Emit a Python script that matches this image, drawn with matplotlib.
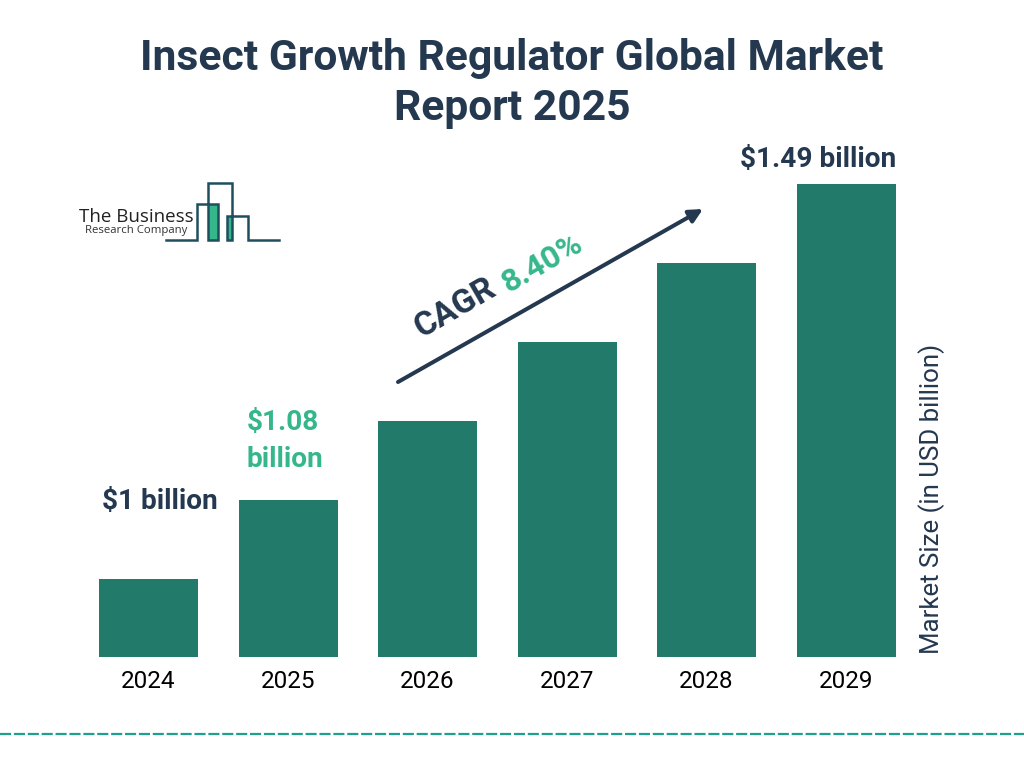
import matplotlib
matplotlib.use('Agg')
import matplotlib.pyplot as plt
from matplotlib.patches import Rectangle, FancyArrowPatch

plt.rcParams['font.family'] = ['Roboto', 'DejaVu Sans']

# Data
years = ['2024', '2025', '2026', '2027', '2028', '2029']
# bars are drawn as even steps in the picture, not to scale with the labels
bar_heights = [78, 157, 236, 315, 394, 473]
title = 'Insect Growth Regulator Global Market\nReport 2025'
y_label = 'Market Size (in USD billion)'
cagr_value = '8.40%'

navy = '#24384F'
bar_green = '#217A6A'
light_green = '#36B78B'
logo_line = '#1F4E5F'
dash_teal = '#1FA08E'

fig = plt.figure(figsize=(10.24, 7.68), dpi=100, facecolor='white')

# Bars axes fills the whole figure: baseline sits 657px from the top
ax = fig.add_axes([0, 0, 1, 1])
ax.set_xlim(-148.7 / 139.5, (1024 - 148.7) / 139.5)
ax.set_ylim(-111, 657)
ax.bar(range(len(years)), bar_heights, width=0.708, color=bar_green, edgecolor='none')
ax.axis('off')

# Overlay in pixel coordinates for the annotations
ov = fig.add_axes([0, 0, 1, 1], facecolor='none')
ov.set_xlim(0, 1024)
ov.set_ylim(768, 0)
ov.axis('off')

ov.text(512, 83.5, title, ha='center', va='center', fontsize=30.7, fontweight='bold',
        color=navy, linespacing=1.27)

# Year labels
for i, year in enumerate(years):
    ov.text(148.5 + i * 139.5, 682, year, ha='center', va='center', fontsize=17.5, color='black')

# Value labels
ov.text(160, 502, '$1 billion', ha='center', va='center', fontsize=20.2, fontweight='bold', color=navy)
ov.text(247, 441, '$1.08\nbillion', ha='left', va='center', fontsize=20.2, fontweight='bold',
        color=light_green, linespacing=1.5)
ov.text(818, 159.5, '$1.49 billion', ha='center', va='center', fontsize=20.2, fontweight='bold', color=navy)

ov.text(932, 498.5, y_label, ha='center', va='center', rotation=90, fontsize=18.6, color=navy)

# CAGR arrow
arrow = FancyArrowPatch((398, 382), (703, 209), arrowstyle='-|>', mutation_scale=20,
                        color=navy, linewidth=2.9, shrinkA=0, shrinkB=0)
ov.add_patch(arrow)
ov.text(455, 308, 'CAGR', ha='center', va='center', rotation=30, fontsize=24, fontweight='bold',
        color=navy, rotation_mode='anchor')
ov.text(542, 263, cagr_value, ha='center', va='center', rotation=30, fontsize=23, fontweight='bold',
        color=light_green, rotation_mode='anchor')

# Logo
ov.add_patch(Rectangle((208, 204), 10, 36, color=light_green, linewidth=0))
ov.add_patch(Rectangle((227, 216), 5, 24, color=light_green, linewidth=0))
logo_x = [166, 197, 197, 218, 218, 208, 208, 232, 232, 227, 227, 248, 248, 279]
logo_y = [240, 240, 204, 204, 240, 240, 183, 183, 240, 240, 216, 216, 240, 240]
ov.plot(logo_x, logo_y, color=logo_line, linewidth=1.8, solid_joinstyle='miter')
ov.text(79, 217, 'The Business', ha='left', va='center', fontsize=13.5, color='#222222',
        family=['Open Sans', 'DejaVu Sans'])
ov.text(85, 230, 'Research Company', ha='left', va='center', fontsize=8.2, color='#333333',
        family=['Open Sans', 'DejaVu Sans'])

# Dashed line along the bottom
ov.plot([0, 1024], [734, 734], color=dash_teal, linewidth=1.6, linestyle=(0, (5.0, 1.25)))

fig.savefig('out.png', dpi=100)
